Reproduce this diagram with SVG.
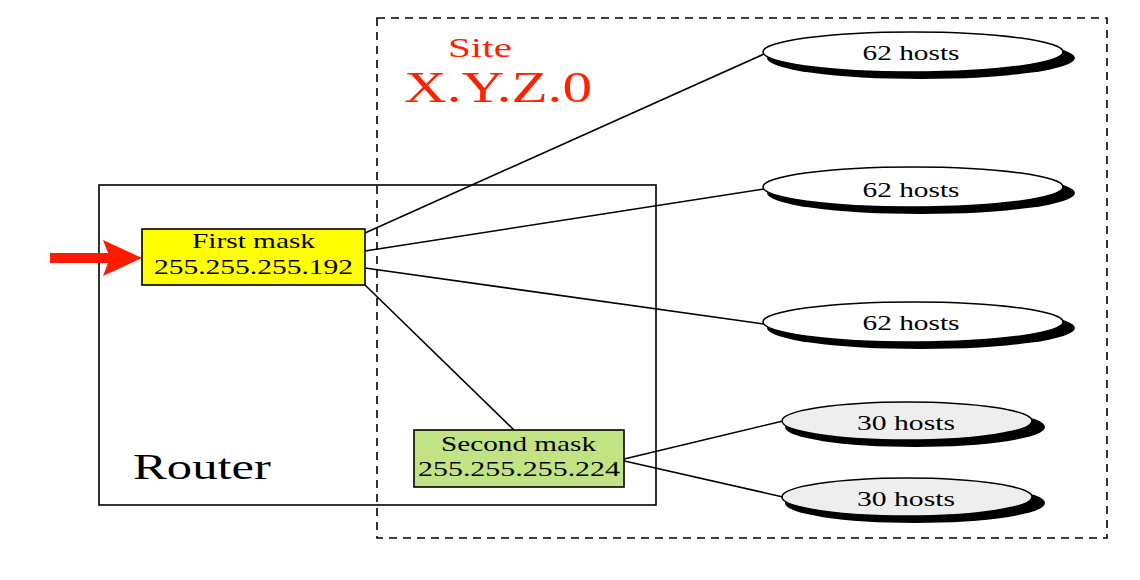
<svg xmlns="http://www.w3.org/2000/svg" width="1140" height="580" viewBox="0 0 1140 580">
<style>
text{font-family:"Liberation Serif","Times New Roman",serif;text-anchor:middle}
.lbl{font-size:21px;fill:#000}
.edge{stroke:#000;stroke-width:1.6;fill:none}
.shadow{fill:#000}
.e62{fill:#fff;stroke:#000;stroke-width:1.5}
.e30{fill:#eeeeee;stroke:#000;stroke-width:1.5}
</style>
<rect x="0" y="0" width="1140" height="580" fill="#fff"/>
<g id="site">
<rect x="377" y="18" width="730" height="520" fill="none" stroke="#000" stroke-width="1.6" stroke-dasharray="8,6"/>
<text x="480" y="57" font-size="27" fill="#ff2200" textLength="64" lengthAdjust="spacingAndGlyphs">Site</text>
<text x="498" y="102" font-size="44" fill="#ff2200" textLength="188" lengthAdjust="spacingAndGlyphs">X.Y.Z.0</text>
</g>
<g id="router">
<rect x="99" y="185" width="557" height="320" fill="none" stroke="#000" stroke-width="1.6"/>
<text x="202" y="479" font-size="35" fill="#000" textLength="138" lengthAdjust="spacingAndGlyphs">Router</text>
</g>
<g id="connectors">
<line class="edge" x1="365" y1="233" x2="764" y2="54"/>
<line class="edge" x1="365" y1="251" x2="764" y2="189"/>
<line class="edge" x1="365" y1="268" x2="764" y2="324"/>
<line class="edge" x1="365" y1="285" x2="514" y2="430"/>
<line class="edge" x1="620" y1="460" x2="783" y2="421"/>
<line class="edge" x1="620" y1="460" x2="783" y2="497"/>
<path id="input-arrow" d="M50,253 L108,253 L103,240 L142,258 L103,276 L108,263 L50,263 Z" fill="#ff1a00"/>
</g>
<g id="first-mask">
<rect x="142" y="229" width="223" height="56" fill="#ffff00" stroke="#000" stroke-width="1.6"/>
<text class="lbl" x="253.5" y="248" textLength="123" lengthAdjust="spacingAndGlyphs">First mask</text>
<text class="lbl" x="253.5" y="274" textLength="199" lengthAdjust="spacingAndGlyphs">255.255.255.192</text>
</g>
<g id="second-mask">
<rect x="414" y="430" width="210" height="57" fill="#c2e384" stroke="#000" stroke-width="1.6"/>
<text class="lbl" x="518.5" y="451" textLength="155" lengthAdjust="spacingAndGlyphs">Second mask</text>
<text class="lbl" x="519" y="476" textLength="202" lengthAdjust="spacingAndGlyphs">255.255.255.224</text>
</g>
<g id="hosts1">
<ellipse class="shadow" cx="921" cy="58" rx="154" ry="21"/>
<ellipse class="e62" cx="913" cy="52" rx="150" ry="20"/>
<text class="lbl" x="911" y="60" textLength="97" lengthAdjust="spacingAndGlyphs">62 hosts</text>
</g>
<g id="hosts2">
<ellipse class="shadow" cx="921" cy="193" rx="154" ry="21"/>
<ellipse class="e62" cx="913" cy="187" rx="150" ry="20"/>
<text class="lbl" x="911" y="197" textLength="97" lengthAdjust="spacingAndGlyphs">62 hosts</text>
</g>
<g id="hosts3">
<ellipse class="shadow" cx="921" cy="328" rx="154" ry="21"/>
<ellipse class="e62" cx="913" cy="322" rx="150" ry="20"/>
<text class="lbl" x="911" y="330" textLength="97" lengthAdjust="spacingAndGlyphs">62 hosts</text>
</g>
<g id="hosts4">
<ellipse class="shadow" cx="915" cy="427" rx="130" ry="20"/>
<ellipse class="e30" cx="907" cy="421" rx="125" ry="19"/>
<text class="lbl" x="906" y="430" textLength="98" lengthAdjust="spacingAndGlyphs">30 hosts</text>
</g>
<g id="hosts5">
<ellipse class="shadow" cx="915" cy="503" rx="130" ry="20"/>
<ellipse class="e30" cx="907" cy="497" rx="125" ry="19"/>
<text class="lbl" x="906" y="506" textLength="98" lengthAdjust="spacingAndGlyphs">30 hosts</text>
</g>
</svg>
